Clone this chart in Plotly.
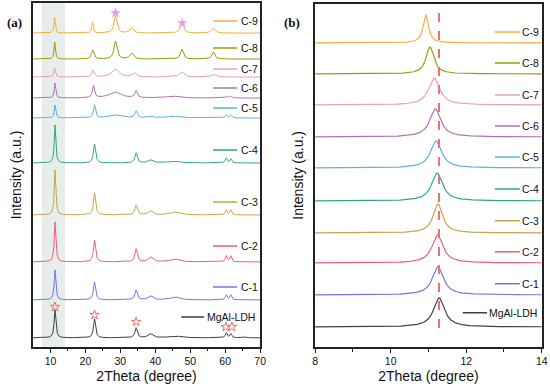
import numpy as np
import plotly.graph_objects as go

# ---------------- data ----------------
samples = ["MgAl-LDH", "C-1", "C-2", "C-3", "C-4", "C-5", "C-6", "C-7", "C-8", "C-9"]
colors = ["#404040", "#6f78e6", "#ee5d7a", "#c8a44c", "#2fa58f",
          "#63aee3", "#b073b8", "#e9a0b0", "#9a9a12", "#f8ac3c"]

# Panel (a): stacking offset (a.u.) and peaks: (2theta, height, fwhm)
a_offset = [9, 47, 85, 132, 184, 229, 249, 270, 288, 314]
a_peaks = [
    [(11.3, 28, 0.6), (22.6, 19, 0.7), (34.5, 10, 0.8), (38.6, 4, 1.5), (45.5, 2, 4.0), (60.3, 5, 0.6), (61.6, 4, 0.6), (65.5, 1, 1.0)],
    [(11.3, 30, 0.55), (22.6, 18, 0.7), (34.5, 10, 0.8), (38.6, 4, 1.5), (45.5, 3, 3.0), (60.3, 5, 0.6), (61.6, 5, 0.6)],
    [(11.3, 40, 0.55), (22.6, 22, 0.7), (34.5, 13, 0.8), (38.6, 5, 1.5), (45.5, 3, 3.0), (60.3, 6, 0.6), (61.6, 6, 0.6)],
    [(11.3, 45, 0.5), (22.6, 22, 0.7), (34.5, 10, 0.8), (38.6, 4, 1.5), (45.5, 3, 3.0), (60.3, 5, 0.6), (61.6, 5, 0.6)],
    [(11.3, 38, 0.5), (22.6, 19, 0.7), (34.5, 10, 0.8), (38.6, 3, 1.5), (45.0, 2, 4.0), (60.3, 5, 0.6), (61.6, 4, 0.6)],
    [(11.3, 13, 0.5), (22.6, 13, 0.7), (28.5, 3, 4.0), (34.5, 7, 0.8), (38.6, 2, 1.5), (45.0, 2, 4.0), (60.3, 3, 0.6), (61.6, 3, 0.6)],
    [(11.3, 15, 0.5), (22.3, 12, 0.7), (28.5, 6, 4.0), (34.5, 7, 0.8), (45.0, 2, 4.0), (60.3, 2, 0.6), (61.6, 2, 0.6)],
    [(11.2, 9, 0.5), (22.2, 7, 0.7), (28.6, 8, 2.5), (34.0, 4, 1.2), (47.6, 5, 1.5), (56.6, 3, 1.5)],
    [(11.2, 17, 0.45), (22.1, 9, 0.8), (28.6, 18, 1.0), (33.2, 6, 1.2), (47.6, 10, 1.0), (56.6, 7, 1.0)],
    [(11.2, 16, 0.45), (22.0, 11, 0.5), (28.6, 17, 1.0), (33.2, 5, 1.2), (47.6, 12, 1.0), (56.6, 5, 1.2)],
]

# Panel (b): zoom on the (003) reflection
b_offset = [20, 52, 84, 114, 146, 179, 210, 242, 273, 304]
b_peak_pos = [11.28, 11.25, 11.24, 11.25, 11.23, 11.20, 11.18, 11.15, 11.04, 10.93]
b_peak_height = [29, 28, 28, 29, 28, 27, 28, 27, 27, 28]
b_peak_fwhm = [0.35, 0.35, 0.35, 0.30, 0.35, 0.35, 0.35, 0.35, 0.25, 0.17]
ref_line_2theta = 11.28

# marker stars (a)
ldh_star_x = [11.3, 22.6, 34.5, 60.2, 61.9]
ldh_star_y = [40, 32, 25, 20, 20]
c9_star_x = [28.6, 47.7]
c9_star_y = [334, 324]

# layout positions for in-plot legend labels (a.u.)
a_label_y = [30, 60, 101, 145, 197, 239, 259, 278, 299, 326]
b_label_y = [34, 63, 95, 126, 158, 190, 221, 252, 284, 315]


def profile(x, peaks, base):
    y = np.full_like(x, float(base))
    for p, h, w in peaks:
        y += h / (1.0 + ((x - p) / (w / 2.0)) ** 2)
    return y


xa = np.linspace(5, 70, 2601)
xb = np.linspace(8, 14, 1201)

fig = go.Figure()

for i, s in enumerate(samples):
    fig.add_trace(go.Scatter(x=xa, y=profile(xa, a_peaks[i], a_offset[i]), mode="lines",
                             line=dict(color=colors[i], width=1), name=s, showlegend=False,
                             xaxis="x", yaxis="y"))
    fig.add_trace(go.Scatter(x=xb, y=profile(xb, [(b_peak_pos[i], b_peak_height[i], b_peak_fwhm[i])], b_offset[i]),
                             mode="lines", line=dict(color=colors[i], width=1.2), name=s, showlegend=False,
                             xaxis="x2", yaxis="y2"))

fig.add_trace(go.Scatter(x=ldh_star_x, y=ldh_star_y, mode="markers",
                         marker=dict(symbol="star-open", size=7, color="#f26b6b", line=dict(width=1)),
                         showlegend=False, xaxis="x", yaxis="y"))
fig.add_trace(go.Scatter(x=c9_star_x, y=c9_star_y, mode="markers",
                         marker=dict(symbol="star", size=8, color="#e69ce8"),
                         showlegend=False, xaxis="x", yaxis="y"))

shapes = []
annotations = []
# shaded region in (a)
shapes.append(dict(type="rect", xref="x", yref="y domain", x0=7.5, x1=14.2, y0=0, y1=1,
                   fillcolor="#e6edeb", line=dict(width=0), layer="below"))
# dashed reference line in (b)
shapes.append(dict(type="line", xref="x2", yref="y2 domain", x0=ref_line_2theta, x1=ref_line_2theta,
                   y0=0.055, y1=0.982, line=dict(color="#f07070", width=2, dash="dash")))

for i, s in enumerate(samples):
    if s == "MgAl-LDH":
        ax0, ax1, atx = 47.4, 54.0, 54.8
        bx0, bx1, btx = 11.91, 12.55, 12.60
    else:
        ax0, ax1, atx = 56.5, 63.4, 64.6
        bx0, bx1, btx = 12.76, 13.42, 13.47
    shapes.append(dict(type="line", xref="x", yref="y", x0=ax0, x1=ax1, y0=a_label_y[i], y1=a_label_y[i],
                       line=dict(color=colors[i], width=1.5)))
    annotations.append(dict(xref="x", yref="y", x=atx, y=a_label_y[i], text=s, showarrow=False,
                            xanchor="left", yanchor="middle", xshift=-2, font=dict(size=10.5, color="#111")))
    shapes.append(dict(type="line", xref="x2", yref="y2", x0=bx0, x1=bx1, y0=b_label_y[i], y1=b_label_y[i],
                       line=dict(color=colors[i], width=1.5)))
    annotations.append(dict(xref="x2", yref="y2", x=btx, y=b_label_y[i], text=s, showarrow=False,
                            xanchor="left", yanchor="middle", xshift=-2, font=dict(size=10.5, color="#111")))

annotations.append(dict(xref="paper", yref="paper", x=0.009, y=0.943, text="<b>(a)</b>", showarrow=False,
                        xanchor="left", yanchor="middle",
                        font=dict(family="Liberation Serif, Times New Roman, serif", size=13, color="#111")))
annotations.append(dict(xref="paper", yref="paper", x=0.513, y=0.941, text="<b>(b)</b>", showarrow=False,
                        xanchor="left", yanchor="middle",
                        font=dict(family="Liberation Serif, Times New Roman, serif", size=13, color="#111")))

axis_common = dict(showline=True, linecolor="#222", linewidth=1.5, mirror=True, showgrid=False,
                   zeroline=False)
xtick_common = dict(ticks="outside", ticklen=4, tickwidth=1, tickcolor="#222",
                    tickfont=dict(size=10.5, color="#111"))

fig.update_layout(
    width=550, height=388,
    margin=dict(l=0, r=0, t=0, b=0),
    paper_bgcolor="white", plot_bgcolor="white",
    font=dict(family="Liberation Sans, Arial, sans-serif", color="#111"),
    xaxis=dict(domain=[0.06, 0.473], range=[5, 70], tickvals=[10, 20, 30, 40, 50, 60, 70],
               minor=dict(tickvals=[15, 25, 35, 45, 55, 65], ticks="outside", ticklen=2, tickcolor="#222"),
               title=dict(text="2Theta (degree)", font=dict(size=14), standoff=5),
               automargin=False, anchor="y", **axis_common, **xtick_common),
    yaxis=dict(domain=[0.106, 0.992], range=[0, 344], showticklabels=False, ticks="",
               title=dict(text="Intensity (a.u.)", font=dict(size=14), standoff=6),
               automargin=False, anchor="x", **axis_common),
    xaxis2=dict(domain=[0.573, 0.985], range=[8, 14], tickvals=[8, 10, 12, 14],
                minor=dict(tickvals=[9, 11, 13], ticks="outside", ticklen=3, tickcolor="#222"),
                title=dict(text="2Theta (degree)", font=dict(size=14), standoff=5),
                automargin=False, anchor="y2", **axis_common, **xtick_common),
    yaxis2=dict(domain=[0.106, 0.99], range=[0, 343], showticklabels=False, ticks="",
                title=dict(text="Intensity (a.u.)", font=dict(size=14), standoff=6),
                automargin=False, anchor="x2", **axis_common),
    shapes=shapes,
    annotations=annotations,
)

fig.write_html("out.html", config={"displayModeBar": False},
               post_script="document.body.style.margin='0';document.body.style.overflow='hidden';")
